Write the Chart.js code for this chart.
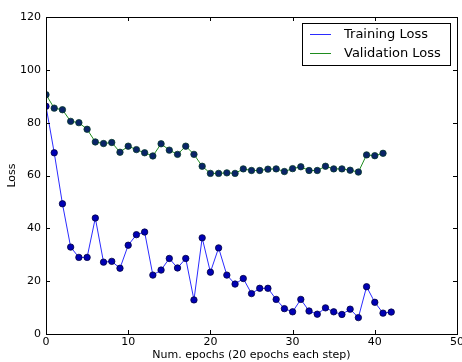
<!DOCTYPE html>
<html>
<head>
<meta charset="utf-8">
<script src="https://cdn.jsdelivr.net/npm/chart.js@4"></script>
<style>
  html, body { margin: 0; padding: 0; background: #fff; }
  #wrap { width: 462px; height: 362px; }
</style>
</head>
<body>
<div id="wrap"><canvas id="lossChart" width="462" height="362"></canvas></div>
<script>
// values
const trainEpochs = [0,1,2,3,4,5,6,7,8,9,10,11,12,13,14,15,16,17,18,19,20,21,22,23,24,25,26,27,28,29,30,31,32,33,34,35,36,37,38,39,40,41,42];
const trainLoss = [86.2, 68.6, 49.3, 32.9, 29, 29, 43.9, 27.2, 27.5, 24.9, 33.6, 37.6, 38.6, 22.3, 24.2, 28.6, 25, 28.6, 12.9, 36.4,
                   23.4, 32.6, 22.3, 18.9, 21, 15.3, 17.3, 17.3, 13.1, 9.6, 8.4, 13.1, 8.7, 7.5, 9.9, 8.4, 7.4, 9.4, 6.2, 17.9,
                   12, 7.9, 8.3];
const valEpochs = [0,1,2,3,4,5,6,7,8,9,10,11,12,13,14,15,16,17,18,19,20,21,22,23,24,25,26,27,28,29,30,31,32,33,34,35,36,37,38,39,40,41];
const valLoss = [90.6, 85.5, 84.9, 80.5, 80, 77.5, 72.7, 72.1, 72.5, 68.8, 71.1, 69.8, 68.6, 67.4, 72, 69.6, 68, 71.1, 68, 63.5,
                 60.8, 60.8, 61, 60.8, 62.5, 61.9, 61.9, 62.4, 62.5, 61.5, 62.6, 63.3, 61.9, 61.9, 63.5, 62.5, 62.5, 62, 61.3, 67.8,
                 67.5, 68.4];
const xTicks = [0, 10, 20, 30, 40, 50];
const yTicks = [0, 20, 40, 60, 80, 100, 120];

const FONT = "'DejaVu Sans', sans-serif";

// frame, inward ticks and boxed legend like the old matplotlib style
const framePlugin = {
    id: 'frame',
    afterDraw(chart) {
        const ctx = chart.ctx;
        const a = chart.chartArea;
        const xs = chart.scales.x, ys = chart.scales.y;
        ctx.save();
        ctx.strokeStyle = '#000';
        ctx.lineWidth = 1;
        ctx.strokeRect(Math.round(a.left) + 0.5, Math.round(a.top) + 0.5,
                       Math.round(a.right - a.left), Math.round(a.bottom - a.top));
        ctx.beginPath();
        xTicks.forEach(v => {
            const px = Math.round(xs.getPixelForValue(v)) + 0.5;
            ctx.moveTo(px, a.bottom); ctx.lineTo(px, a.bottom - 4);
            ctx.moveTo(px, a.top); ctx.lineTo(px, a.top + 4);
        });
        yTicks.forEach(v => {
            const py = Math.round(ys.getPixelForValue(v)) + 0.5;
            ctx.moveTo(a.left, py); ctx.lineTo(a.left + 4, py);
            ctx.moveTo(a.right, py); ctx.lineTo(a.right - 4, py);
        });
        ctx.stroke();

        // legend
        const bx = 302.5, by = 23.5, bw = 148, bh = 42;
        ctx.fillStyle = '#fff';
        ctx.fillRect(bx, by, bw, bh);
        ctx.strokeRect(bx, by, bw, bh);
        ctx.font = '13px ' + FONT;
        ctx.textBaseline = 'middle';
        chart.data.datasets.forEach((ds, i) => {
            const y = 34.5 + i * 19;
            ctx.strokeStyle = ds.borderColor;
            ctx.beginPath();
            ctx.moveTo(310, y); ctx.lineTo(331, y);
            ctx.stroke();
            ctx.fillStyle = '#000';
            ctx.fillText(ds.label, 344, y);
        });
        ctx.restore();
    }
};

new Chart(document.getElementById('lossChart'), {
    type: 'line',
    data: {
        datasets: [{
            label: 'Training Loss',
            data: trainEpochs.map((e, i) => ({ x: e, y: trainLoss[i] })),
            borderColor: '#2b2bff',
            borderWidth: 1,
            pointRadius: 3.2,
            pointBackgroundColor: '#0000b4',
            pointBorderColor: '#000040',
            pointBorderWidth: 0.8,
            tension: 0
        }, {
            label: 'Validation Loss',
            data: valEpochs.map((e, i) => ({ x: e, y: valLoss[i] })),
            borderColor: '#1e8c1e',
            borderWidth: 1,
            pointRadius: 3.2,
            pointBackgroundColor: '#0a2468',
            pointBorderColor: '#063a2a',
            pointBorderWidth: 0.8,
            tension: 0
        }]
    },
    options: {
        responsive: false,
        animation: false,
        layout: { padding: { top: 17, right: 5, left: 0, bottom: 0 } },
        plugins: {
            legend: { display: false },
            tooltip: { enabled: false }
        },
        scales: {
            x: {
                type: 'linear',
                min: 0,
                max: 50,
                afterBuildTicks: scale => { scale.ticks = xTicks.map(v => ({ value: v })); },
                afterFit: scale => { scale.height = 28; scale.paddingRight = 0; scale.paddingLeft = 0; },
                grid: { display: false, drawTicks: false },
                border: { display: false },
                ticks: { color: '#000', padding: 2, font: { family: FONT, size: 11 }, maxRotation: 0 },
                title: {
                    display: true,
                    text: 'Num. epochs (20 epochs each step)',
                    color: '#000',
                    padding: { top: 0, bottom: 0 },
                    font: { family: FONT, size: 11 }
                }
            },
            y: {
                min: 0,
                max: 120,
                afterBuildTicks: scale => { scale.ticks = yTicks.map(v => ({ value: v })); },
                afterFit: scale => { scale.width = 46; },
                grid: { display: false, drawTicks: false },
                border: { display: false },
                ticks: { color: '#000', padding: 5, font: { family: FONT, size: 11 } },
                title: {
                    display: true,
                    text: 'Loss',
                    color: '#000',
                    padding: { top: 6, bottom: 0 },
                    font: { family: FONT, size: 11 }
                }
            }
        }
    },
    plugins: [framePlugin]
});
</script>
</body>
</html>
